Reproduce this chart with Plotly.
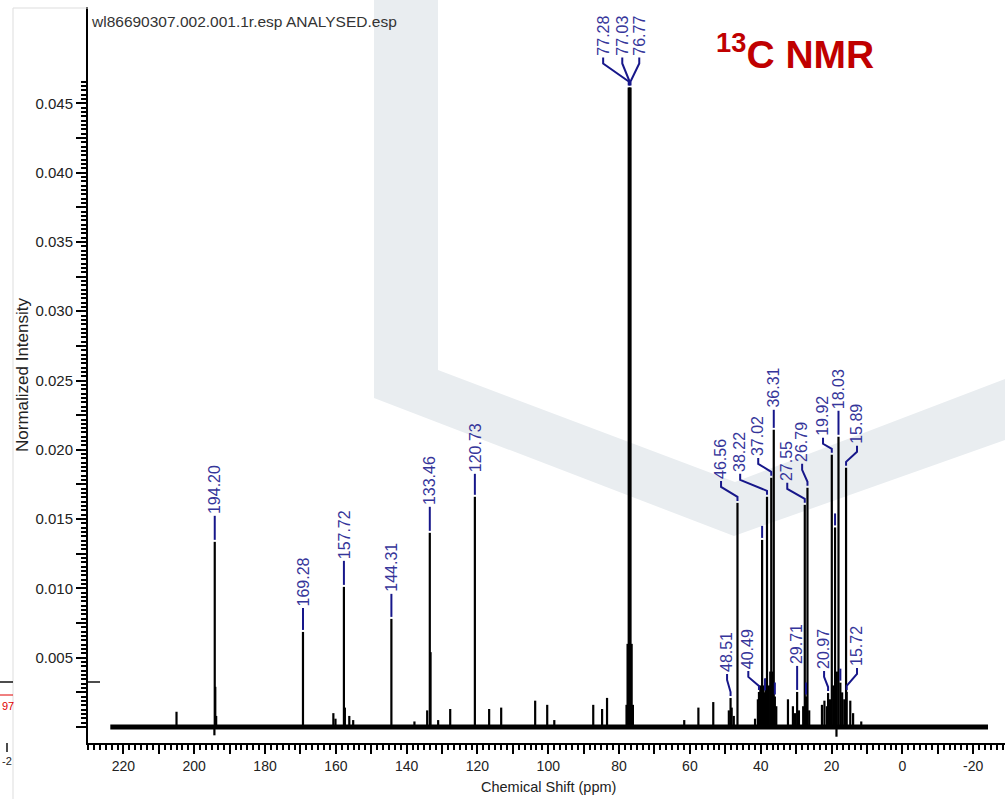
import plotly.graph_objects as go

# ---------------- data ----------------
spectrum_start_ppm = 223.7
spectrum_end_ppm = -24.2

peak_ppm = [
    205.0, 194.30, 194.20, 194.05, 193.8, 169.28, 160.7, 160.1, 157.72, 157.45, 156.2, 155.1,
    144.31, 137.8, 134.2, 133.46, 133.25, 131.1, 127.7, 120.73, 116.7, 113.3, 103.7, 100.3,
    98.3, 87.3, 84.8, 83.4, 77.9, 77.6, 77.28, 77.03, 76.77, 76.45, 76.1, 61.6, 57.6, 53.4,
    49.0, 48.51, 48.2, 47.6, 46.56, 41.6, 40.8, 40.49, 40.1, 39.6, 39.2, 38.8, 38.5, 38.22,
    37.7, 37.3, 37.02, 36.6, 36.31, 36.0, 35.6, 32.3, 30.9, 30.3, 29.71, 29.2, 28.0, 27.55,
    27.2, 26.79, 26.3, 22.7, 22.0, 21.3, 20.97, 20.4, 19.92, 19.5, 19.0, 18.6, 18.5, 18.03,
    17.5, 17.0, 16.4, 15.89, 15.72, 14.7, 13.9, 11.6,
]
peak_intensity = [
    0.0011, -0.0006, 0.01336, 0.0029, 0.0008, 0.00686, 0.0010, 0.0006, 0.01011, 0.0014, 0.0008, 0.0005,
    0.0078, 0.0004, 0.0012, 0.01401, 0.0054, 0.0005, 0.0013, 0.01661, 0.0013, 0.0014, 0.0019, 0.0016,
    0.0005, 0.0016, 0.0013, 0.0021, 0.0016, 0.0060, 0.04614, 0.04614, 0.04614, 0.0060, 0.0016, 0.0005, 0.0014, 0.0018,
    0.0012, 0.00209, 0.0014, 0.0008, 0.01617, 0.0006, 0.0020, 0.00253, 0.0030, 0.0135, 0.0030, 0.0025, 0.0035, 0.01661,
    0.0030, 0.0040, 0.01798, 0.0040, 0.02144, 0.0022, 0.0015, 0.0020, 0.0015, 0.0010, 0.00253, 0.0012, 0.0015, 0.01603,
    0.0022, 0.01726, 0.0012, 0.0016, 0.0019, 0.0015, 0.00245, 0.0020, 0.01964, 0.0030, 0.0144, -0.0007, 0.0040, 0.02094,
    0.0032, 0.0025, 0.0020, 0.01870, 0.00253, 0.0019, 0.0010, 0.0004,
]

# peak labels: text, label position (ppm), label base (intensity)
label_text = ["194.20", "169.28", "157.72", "144.31", "133.46", "120.73",
              "77.28", "77.03", "76.77",
              "46.56", "38.22", "37.02", "36.31", "27.55", "26.79", "19.92", "18.03", "15.89",
              "48.51", "40.49", "29.71", "20.97", "15.72"]
label_pos_ppm = [194.20, 169.28, 157.72, 144.31, 133.46, 120.73,
                 84.5, 79.1, 74.3,
                 51.2, 45.8, 40.7, 36.31, 32.5, 28.3, 22.4, 18.03, 12.8,
                 49.5, 43.5, 29.71, 22.1, 12.8]
label_pos_int = [0.01531, 0.00866, 0.01206, 0.00968, 0.01596, 0.01834,
                 0.04838, 0.04838, 0.04838,
                 0.01783, 0.01834, 0.01949, 0.02296, 0.01769, 0.01906, 0.02094, 0.02289, 0.02036,
                 0.00390, 0.00412, 0.00448, 0.00412, 0.00433]

# unlabelled peak markers (short blue ticks)
marker_ppm = [39.6, 19.0, 38.8, 36.0, 27.2, 17.5]

x_tick_vals = list(range(-20, 230, 10))
x_tick_text = [str(v) if v % 20 == 0 else "" for v in x_tick_vals]
y_tick_vals = [round(0.0025 * i, 4) for i in range(0, 19)]
y_tick_text = [("%.3f" % v) if (i % 2 == 0 and i > 0) else "" for i, v in enumerate(y_tick_vals)]
y_minor_vals = [round(0.0003125 * i, 7) for i in range(0, 150)]

# ---------------- layout constants ----------------
W, H = 1005, 799
ML, MR, MT, MB = 88, 0, 7, 56
PW, PH = W - ML - MR, H - MT - MB
X_RANGE = [230.0, -29.0]
Y_RANGE = [-0.001154, 0.05195]
DY = (Y_RANGE[1] - Y_RANGE[0]) / PH  # intensity per pixel


def pp(px, py):
    """pixel -> paper coordinates"""
    return (px - ML) / PW, (H - MB - py) / PH


FONT = "Liberation Sans, Arial, sans-serif"
LABEL_TEXT_COLOR = "#35359a"
LABEL_LINE_COLOR = "#17178a"

fig = go.Figure()

# baseline (noise band) - on the overlay axis carrying the minor ticks
fig.add_trace(go.Scatter(
    x=[spectrum_start_ppm, spectrum_end_ppm], y=[0, 0], mode="lines", yaxis="y2",
    line=dict(color="black", width=5), hoverinfo="skip", showlegend=False))

# peaks as sticks
sx, sy = [], []
for p, h in zip(peak_ppm, peak_intensity):
    sx += [p, p, None]
    sy += [0, h, None]
fig.add_trace(go.Scatter(x=sx, y=sy, mode="lines", line=dict(color="black", width=2.2),
                         hoverinfo="skip", showlegend=False))

# label brackets
peak_lookup = dict(zip(peak_ppm, peak_intensity))
bx, by = [], []
annotations = []
for t, lx, ly in zip(label_text, label_pos_ppm, label_pos_int):
    pk = float(t)
    h = peak_lookup[pk]
    bx += [pk, pk, lx, lx, None]
    by += [h + 2 * DY, h + 6 * DY, ly - 7 * DY, ly - 1 * DY, None]
    annotations.append(dict(x=lx, y=ly, xref="x", yref="y", text=t, textangle=-90,
                            xanchor="center", yanchor="bottom", showarrow=False,
                            font=dict(family=FONT, size=16, color=LABEL_TEXT_COLOR),
                            borderpad=0))
for m in marker_ppm:
    h = peak_lookup[m]
    bx += [m, m, None]
    by += [h + 2 * DY, h + 14 * DY, None]
fig.add_trace(go.Scatter(x=bx, y=by, mode="lines", line=dict(color=LABEL_LINE_COLOR, width=2),
                         hoverinfo="skip", showlegend=False))

# header / titles
hx, hy = pp(89, 22)
annotations.append(dict(x=hx, y=hy, xref="paper", yref="paper", text="wl86690307.002.001.1r.esp ANALYSED.esp",
                        xanchor="left", yanchor="middle", showarrow=False,
                        font=dict(family=FONT, size=15.5, color="#333333")))
tx, ty = pp(714, 52)
annotations.append(dict(x=tx, y=ty, xref="paper", yref="paper", text="<b><sup>13</sup>C NMR</b>",
                        xanchor="left", yanchor="middle", showarrow=False,
                        font=dict(family=FONT, size=39, color="#c00000")))
xtx, xty = pp(548, 787)
annotations.append(dict(x=xtx, y=xty, xref="paper", yref="paper", text="Chemical Shift (ppm)",
                        xanchor="center", yanchor="middle", showarrow=False,
                        font=dict(family=FONT, size=14.5, color="#222222")))
ytx, yty = pp(22, 375)
annotations.append(dict(x=ytx, y=yty, xref="paper", yref="paper", text="Normalized Intensity",
                        textangle=-90, xanchor="center", yanchor="middle", showarrow=False,
                        font=dict(family=FONT, size=17, color="#222222")))
# cropped neighbour fragments at left edge
ax_, ay_ = pp(0, 706)
annotations.append(dict(x=ax_, y=ay_, xref="paper", yref="paper", text="97", xanchor="left",
                        yanchor="middle", showarrow=False, font=dict(family=FONT, size=11, color="#e00000")))
ax_, ay_ = pp(0, 761)
annotations.append(dict(x=ax_, y=ay_, xref="paper", yref="paper", text="-2", xanchor="left",
                        yanchor="middle", showarrow=False, font=dict(family=FONT, size=11, color="#222222")))

# watermark chevron
verts = [(374, 0), (438, 0), (438, 370), (735, 482), (1005, 379), (1005, 440), (734, 536), (374, 398)]
path = ""
for i, (vx, vy) in enumerate(verts):
    a, b = pp(vx, vy)
    path += ("M" if i == 0 else "L") + f"{a:.5f},{b:.5f} "
path += "Z"
shapes = [dict(type="path", path=path, xref="paper", yref="paper", fillcolor="#e9edf0",
               line=dict(width=0), layer="below")]


def seg(x0, y0, x1, y1, color, width):
    a0, b0 = pp(x0, y0)
    a1, b1 = pp(x1, y1)
    return dict(type="line", x0=a0, y0=b0, x1=a1, y1=b1, xref="paper", yref="paper",
                line=dict(color=color, width=width))


shapes += [
    seg(13, 8, 88, 8, "#dddddd", 1),
    seg(13, 8, 13, 799, "#dddddd", 1),
    seg(0, 682, 13, 682, "#111111", 1.5),
    seg(0, 695, 13, 695, "#e00000", 1),
    seg(7, 743, 7, 752, "#111111", 1.5),
    seg(88, 682, 100, 682, "#111111", 1.5),
]

fig.update_layout(
    width=W, height=H,
    margin=dict(l=ML, r=MR, t=MT, b=MB, pad=0),
    paper_bgcolor="white", plot_bgcolor="white",
    showlegend=False,
    annotations=annotations,
    shapes=shapes,
    xaxis=dict(range=X_RANGE, showgrid=False, zeroline=False, showline=True, linecolor="black",
               linewidth=2, ticks="outside", ticklen=9, tickwidth=1.5, tickcolor="black",
               tickmode="array", tickvals=x_tick_vals, ticktext=x_tick_text,
               minor=dict(dtick=20 / 12, tick0=0, ticks="outside", ticklen=5, tickwidth=1.5, tickcolor="black"),
               tickfont=dict(family=FONT, size=14, color="#222222")),
    yaxis=dict(range=Y_RANGE, showgrid=False, zeroline=False, showline=True, linecolor="black",
               linewidth=2, ticks="outside", ticklen=10, tickwidth=1.5, tickcolor="black",
               tickmode="array", tickvals=y_tick_vals, ticktext=y_tick_text,
               tickfont=dict(family=FONT, size=15, color="#222222")),
    yaxis2=dict(range=Y_RANGE, overlaying="y", side="left", showgrid=False, zeroline=False,
                showline=False, ticks="outside", ticklen=6, tickwidth=1.5, tickcolor="black",
                tickmode="array", tickvals=[v for v in y_minor_vals if v <= 0.0466],
                showticklabels=False),
)

fig.write_html("out.html")
